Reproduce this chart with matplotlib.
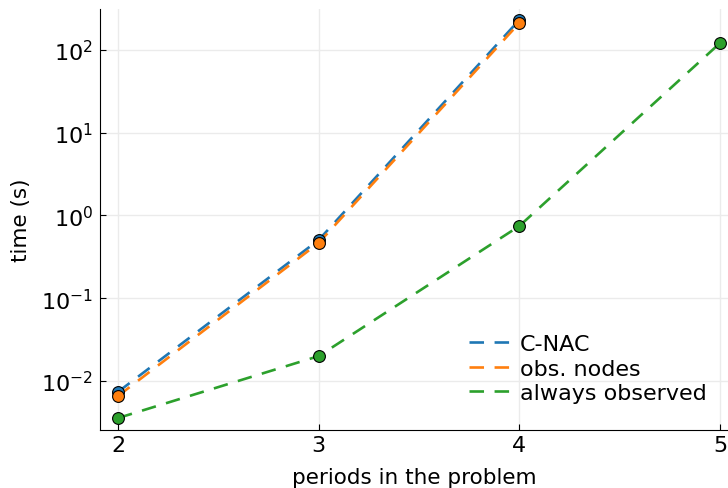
import matplotlib
matplotlib.use("Agg")
import matplotlib.pyplot as plt

periods_a = [2, 3, 4]
cnac = [0.0074, 0.506, 231]
obs_nodes = [0.0066, 0.466, 212]
periods_b = [2, 3, 4, 5]
always_obs = [0.00357, 0.0200, 0.746, 121]
labels = ["C-NAC", "obs. nodes", "always observed"]
colors = ["#1f77b4", "#ff7f0e", "#2ca02c"]

plt.rcParams['font.family'] = ['DejaVu Sans']
plt.rcParams['mathtext.fontset'] = 'dejavusans'
fig = plt.figure(figsize=(7.28, 4.89), dpi=100)
ax = fig.add_axes([100/728, 1-431/489, (728-100)/728, (431-10)/489])

series = [(periods_a, cnac), (periods_a, obs_nodes), (periods_b, always_obs)]
for (xs, ys), lab, c in zip(series, labels, colors):
    ax.plot(xs, ys, ls=(0, (5.5, 4)), color=c, lw=1.9, label=lab)
for (xs, ys), c in zip(series, colors):
    ax.plot(xs, ys, ls='none', marker='o', ms=8.5, mfc=c, mec='black', mew=0.8)

ax.set_yscale('log')
ax.set_xlim(1.91, 5.04)
ax.set_ylim(10**-2.592, 10**2.495)
ax.set_xticks([2, 3, 4, 5])
ax.set_yticks([1e-2, 1e-1, 1e0, 1e1, 1e2])
ax.minorticks_off()
ax.tick_params(direction='in', length=4, labelsize=16, width=0.8)
ax.tick_params(axis='y', pad=5)
ax.grid(True, color='#ebebeb', lw=1)
ax.set_axisbelow(True)
for s in ['top', 'right']:
    ax.spines[s].set_visible(False)
ax.set_xlabel("periods in the problem", fontsize=15.5, labelpad=9)
ax.set_ylabel("time (s)", fontsize=15.5, labelpad=7)
ax.legend(loc='lower right', frameon=False, fontsize=16, handlelength=1.85,
          labelspacing=0.2, borderaxespad=0.0, bbox_to_anchor=(0.98, 0.043),
          handletextpad=0.45)
fig.savefig("out.png", dpi=100)
